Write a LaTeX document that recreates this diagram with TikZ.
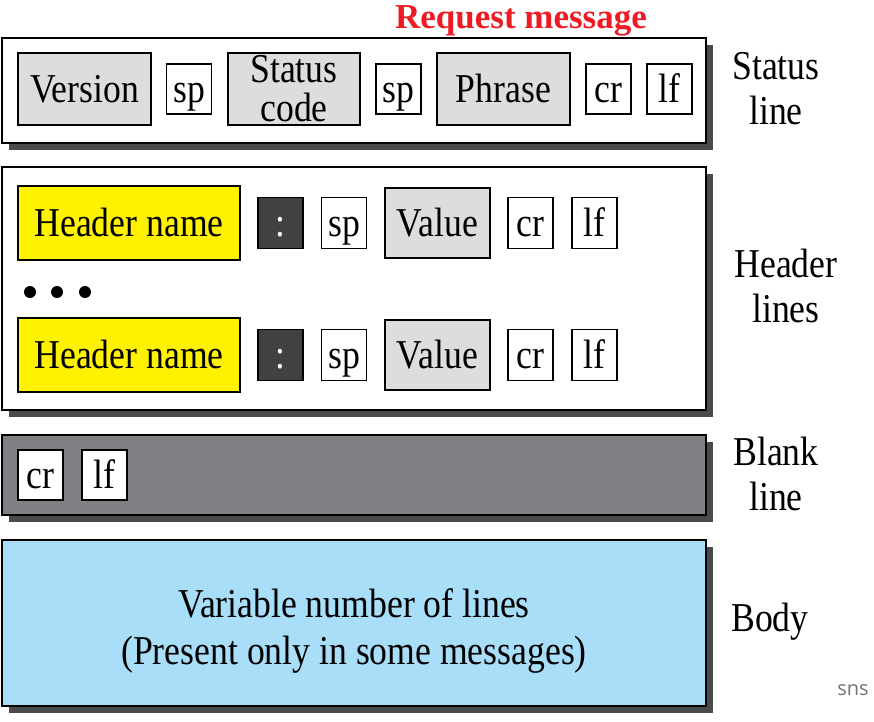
\documentclass[tikz,border=0pt]{standalone}
\usepackage{fontspec}
\setmainfont[FakeStretch=0.87]{Liberation Serif}
\newfontfamily\titlefont{Liberation Serif}
\newfontfamily\snsfont{Open Sans}
\usetikzlibrary{shadows}
\definecolor{fieldgray}{HTML}{DCDDDE}
\definecolor{hdryellow}{HTML}{FFF200}
\definecolor{colonfill}{HTML}{414042}
\definecolor{blankgray}{HTML}{808184}
\definecolor{bodyblue}{HTML}{A8DEF8}
\definecolor{shadowgray}{HTML}{4A4A4C}
\definecolor{titlered}{HTML}{ED1C24}
\newcommand{\bigtext}{\fontsize{41}{45}\selectfont}
\tikzset{
  frame/.style={draw=black, line width=2.4pt, inner sep=0pt, outer sep=0pt,
    anchor=north west, minimum width=704pt,
    drop shadow={shadow xshift=7pt, shadow yshift=-7pt, fill=shadowgray, opacity=1}},
  field/.style={draw=black, line width=1.8pt, inner sep=0pt, outer sep=0pt,
    font=\bigtext, align=center},
  oneline/.style={text height=26pt, text depth=0pt},
  wide/.style={field, oneline, fill=fieldgray, minimum width=133pt, minimum height=72pt},
  small/.style={field, oneline, fill=white, minimum width=45pt, minimum height=50pt},
  hname/.style={field, oneline, fill=hdryellow, minimum width=222pt, minimum height=74pt},
  colon/.style={field, oneline, fill=colonfill, text=white, minimum width=45pt, minimum height=51pt},
  valbox/.style={field, oneline, fill=fieldgray, minimum width=105pt, minimum height=70pt},
  sidelabel/.style={font=\bigtext, align=center, inner sep=0pt},
}
\begin{document}
\begin{tikzpicture}[x=1pt, y=-1pt]
\useasboundingbox (0,0) rectangle (874,721);

% title
\node[text=titlered, font=\titlefont\fontsize{35}{38}\selectfont\bfseries, anchor=base, inner sep=0pt]
  (title) at (521,28) {Request message};

% frames of the four parts
\node[frame, fill=white, minimum height=105pt] (statusframe) at (2,38) {};
\node[frame, fill=white, minimum height=243pt] (headerframe) at (2,167) {};
\node[frame, fill=blankgray, minimum height=80pt] (blankframe) at (2,435) {};
\node[frame, fill=bodyblue, minimum height=166pt] (bodyframe) at (2,540) {};

% status line fields
\node[wide] (version) at (84.5,89) {Version};
\node[small] (sp1) at (189,89) {sp};
\node[field, fill=fieldgray, minimum width=132pt, minimum height=72pt] (scode) at (294,89) {Status\\[-6pt]code};
\node[small] (sp2) at (398.5,89) {sp};
\node[wide] (phrase) at (503.5,89) {Phrase};
\node[small] (cr1) at (608.5,89) {cr};
\node[small] (lf1) at (669.5,89) {lf};

% header lines
\foreach \row/\y in {a/223, b/355} {
  \node[hname] (hn\row) at (129,\y) {Header name};
  \node[colon] (col\row) at (280.5,\y) {:};
  \node[small, minimum height=51pt] (sph\row) at (344,\y) {sp};
  \node[valbox] (val\row) at (437.5,\y) {Value};
  \node[small, minimum height=51pt] (crh\row) at (530.5,\y) {cr};
  \node[small, minimum height=51pt] (lfh\row) at (594.5,\y) {lf};
}
\foreach \x in {30,57,85}
  \fill (\x,292) circle (6pt);

% blank line
\node[small] (crb) at (40.5,475) {cr};
\node[small] (lfb) at (104.5,475) {lf};

% body text
\node[font=\bigtext, align=center, inner sep=0pt] (bodytext) at (354,631)
  {Variable number of lines\\[2pt](Present only in some messages)};

% labels on the right
\node[sidelabel] (lstatus) at (776,89) {Status\\line};
\node[sidelabel] (lheader) at (786,286) {Header\\lines};
\node[sidelabel] (lblank) at (776,474) {Blank\\line};
\node[sidelabel] (lbody) at (770,622) {Body};

\node[text=black!55, font=\snsfont\fontsize{20}{22}\selectfont, inner sep=0pt] (sns) at (853,690) {sns};
\end{tikzpicture}
\end{document}
